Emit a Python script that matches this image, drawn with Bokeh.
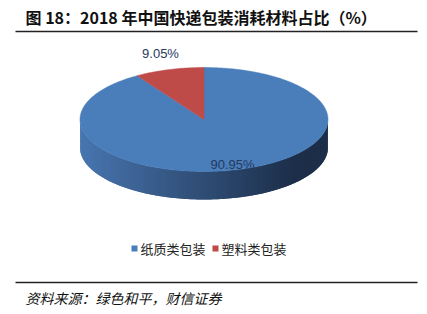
import numpy as np
from bokeh.plotting import figure
from bokeh.models import Range1d
from bokeh.core.properties import value
from bokeh.embed import file_html
from bokeh.resources import INLINE

title = "图 18：2018 年中国快递包装消耗材料占比（%）"
source_txt = "资料来源：绿色和平，财信证券"
categories = ["纸质类包装", "塑料类包装"]
shares = [90.95, 9.05]
labels = ["90.95%", "9.05%"]
colors = ["#4A7EBB", "#BE4B48"]

W, H = 427, 314
p = figure(width=W, height=H, output_backend="svg", toolbar_location=None,
           x_range=Range1d(0, W), y_range=Range1d(H, 0), min_border=0)
p.axis.visible = False
p.grid.visible = False
p.outline_line_color = None
p.background_fill_color = "white"

# pie geometry
cx, cy, rx, ry, depth = 203.5, 119.0, 124.0, 52.0, 28.0

def ell(theta_deg, dy=0.0):
    t = np.radians(theta_deg)
    return cx + rx * np.cos(t), cy - ry * np.sin(t) + dy

# side (front half) with gradient, overlapping strips to avoid seams
n = 90
th = np.linspace(180, 360, n + 1)
c0 = np.array([0x48, 0x76, 0xB0])
c1 = np.array([0x1C, 0x2E, 0x48])
xs_side, ys_side, cols = [], [], []
for i in range(n):
    a, b = th[i], th[min(i + 2, n)]
    tt = np.linspace(a, b, 4)
    px, py = ell(tt)
    xs_side.append(list(px) + list(px[::-1]))
    ys_side.append(list(py) + list((py + depth)[::-1]))
    xm = ell((th[i] + th[i + 1]) / 2)[0]
    t = np.clip((xm - (cx - rx)) / (1.75 * rx), 0, 1)
    c = (c0 + (c1 - c0) * t).astype(int)
    cols.append("#%02x%02x%02x" % tuple(c))
p.patches(xs_side, ys_side, fill_color=cols, line_color=None)

# top face slices: start at 90 deg, clockwise
total = sum(shares)
start = 90.0
xs_top, ys_top = [], []
for v in shares:
    sweep = 360.0 * v / total
    end = start - sweep
    tt = np.linspace(start, end, max(int(sweep), 4))
    px, py = ell(tt)
    xs_top.append([cx] + list(px))
    ys_top.append([cy] + list(py))
    start = end
p.patches(xs_top, ys_top, fill_color=colors, line_color=colors, line_width=0.5)

# data labels
lab_pos = [(232, 164), (160, 53)]
p.text(x=[q[0] for q in lab_pos], y=[q[1] for q in lab_pos], text=labels,
       text_font=value("Liberation Sans"), text_font_size="13px",
       text_color="#243A5E", text_align="center", text_baseline="middle")

# title and rules
p.text(x=[25], y=[16], text=[title], text_font=value("Noto Sans CJK SC"),
       text_font_style="bold", text_font_size="16px", text_color="#111111",
       text_baseline="middle")
p.segment(x0=[15, 15], y0=[31, 282], x1=[417, 417], y1=[31, 282],
          line_color="#222222", line_width=1.5)

# legend
leg_sq_x = [134, 215]
leg_y = 248
p.rect(x=leg_sq_x, y=[leg_y, leg_y], width=6, height=6, fill_color=colors,
       line_color=None)
p.text(x=[x + 6 for x in leg_sq_x], y=[leg_y, leg_y], text=categories,
       text_font=value("Noto Sans CJK SC"), text_font_size="13px",
       text_color="#222222", text_baseline="middle")

# source
p.text(x=[25], y=[297], text=[source_txt], text_font=value("Noto Sans CJK SC"),
       text_font_style="italic", text_font_size="14px", text_color="#111111",
       text_baseline="middle")

open("out.html", "w").write(file_html(p, INLINE))
